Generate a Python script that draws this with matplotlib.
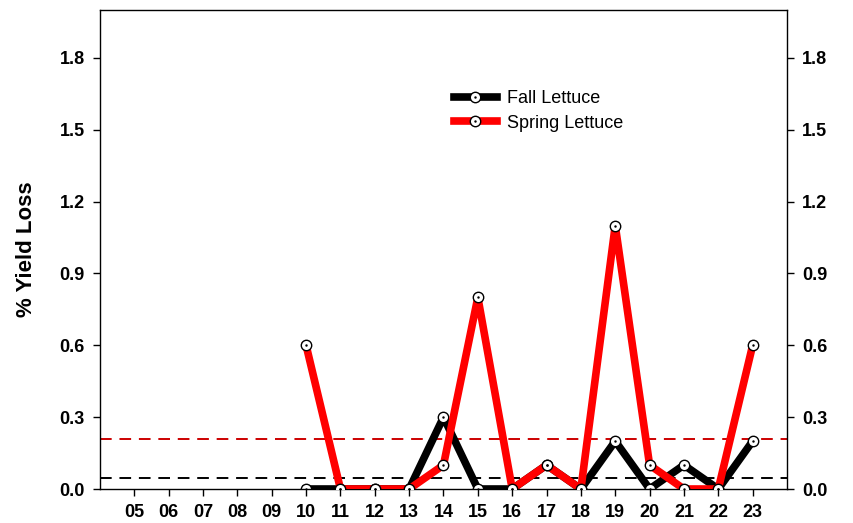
import matplotlib
matplotlib.use("Agg")
import matplotlib.pyplot as plt
from matplotlib.lines import Line2D

plt.rcParams['font.family'] = ['Liberation Sans', 'DejaVu Sans']

# data
years = [10, 11, 12, 13, 14, 15, 16, 17, 18, 19, 20, 21, 22, 23]
fall = [0.0, 0.0, 0.0, 0.0, 0.3, 0.0, 0.0, 0.1, 0.0, 0.2, 0.0, 0.1, 0.0, 0.2]
spring = [0.6, 0.0, 0.0, 0.0, 0.1, 0.8, 0.0, 0.1, 0.0, 1.1, 0.1, 0.0, 0.0, 0.6]
fall_mean = 0.047
spring_mean = 0.208
xticks = list(range(5, 24))
yticks = [0.0, 0.3, 0.6, 0.9, 1.2, 1.5, 1.8]

fig = plt.figure(figsize=(8.54, 5.23), dpi=100)
ax = fig.add_axes([100/854, 1 - 489/523, 687/854, 479/523])

ax.axhline(fall_mean, color='black', ls=(0, (6, 4)), lw=1.4, zorder=1)
ax.axhline(spring_mean, color='#cc0000', ls=(0, (6, 4)), lw=1.4, zorder=1)

mk = dict(marker='o', markersize=7.5, markerfacecolor='white',
          markeredgecolor='black', markeredgewidth=1.0)
ax.plot(years, fall, color='black', lw=5.5, zorder=2, **mk)
ax.plot(years, spring, color='red', lw=5.5, zorder=3, **mk)
# tiny centre dot in each symbol
ax.plot(years, fall, ls='none', marker='.', color='black', markersize=1.5, zorder=4)
ax.plot(years, spring, ls='none', marker='.', color='black', markersize=1.5, zorder=4)

ax.set_xlim(4, 24)
ax.set_ylim(0, 2.0)
ax.set_xticks(xticks)
ax.set_xticklabels(['%02d' % v for v in xticks])
ax.set_yticks(yticks)
ax.set_yticklabels(['%.1f' % v for v in yticks])
ax.tick_params(axis='both', direction='out', length=5, width=1, labelsize=13, pad=6)
ax.tick_params(axis='y', right=True, labelright=True)
for lab in ax.get_xticklabels() + ax.get_yticklabels():
    lab.set_fontweight('bold')
for t in ax.yaxis.get_major_ticks():
    t.label2.set_fontweight('bold')
for s in ax.spines.values():
    s.set_linewidth(1.0)

ax.set_ylabel('% Yield Loss', fontsize=16, fontweight='bold')
ax.yaxis.set_label_coords(-0.092, 0.5)

h_fall = (Line2D([], [], color='black', lw=5.5, **mk),
          Line2D([], [], ls='none', marker='.', color='black', markersize=1.5))
h_spring = (Line2D([], [], color='red', lw=5.5, **mk),
            Line2D([], [], ls='none', marker='.', color='black', markersize=1.5))
ax.legend([h_fall, h_spring], ['Fall Lettuce', 'Spring Lettuce'],
          loc='upper left', bbox_to_anchor=(0.515, 0.832), frameon=False,
          fontsize=13, handlelength=2.4, handletextpad=0.55,
          borderpad=0, borderaxespad=0, labelspacing=0.4)

fig.savefig('out.png', dpi=100)
